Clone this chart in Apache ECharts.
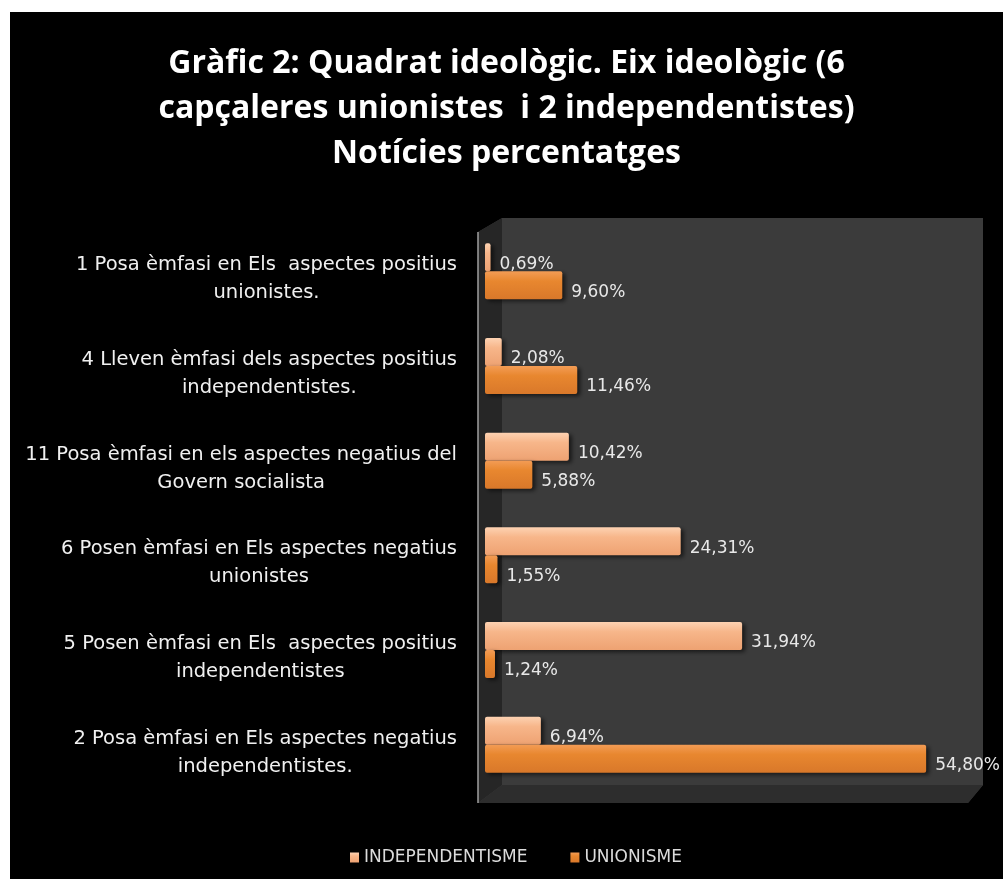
<!DOCTYPE html>
<html>
<head>
<meta charset="utf-8">
<script src="https://cdn.jsdelivr.net/npm/echarts@6/dist/echarts.min.js"></script>
<style>
html,body{margin:0;padding:0;background:#ffffff;}
#wrap{position:absolute;left:10px;top:12px;width:993px;height:867px;background:#000;}
#chart{width:993px;height:867px;}
</style>
</head>
<body>
<div id="wrap"><div id="chart"></div></div>
<script>
const categories = [
  "1 Posa èmfasi en Els  aspectes positius\nunionistes.",
  "4 Lleven èmfasi dels aspectes positius\nindependentistes.",
  "11 Posa èmfasi en els aspectes negatius del\nGovern socialista",
  "6 Posen èmfasi en Els aspectes negatius\nunionistes",
  "5 Posen èmfasi en Els  aspectes positius\nindependentistes",
  "2 Posa èmfasi en Els aspectes negatius\nindependentistes."
];
const seriesNames = ["INDEPENDENTISME", "UNIONISME"];
const independentisme = [0.69, 2.08, 10.42, 24.31, 31.94, 6.94];
const unionisme = [9.60, 11.46, 5.88, 1.55, 1.24, 54.80];
const titleText = "Gràfic 2: Quadrat ideològic. Eix ideològic (6\ncapçaleres unionistes  i 2 independentistes)\nNotícies percentatges";

const TFONT = "'Open Sans', sans-serif";
const FONT = "'DejaVu Sans', sans-serif";
const chart = echarts.init(document.getElementById('chart'));
const fmt = p => p.value.toFixed(2).replace('.', ',') + '%';
function grad(top, mid, bottom) {
  return new echarts.graphic.LinearGradient(0, 0, 0, 1, [
    {offset: 0, color: top}, {offset: 0.35, color: mid}, {offset: 1, color: bottom}
  ]);
}
chart.setOption({
  backgroundColor: '#000',
  textStyle: {fontFamily: FONT},
  title: {
    text: titleText,
    left: 'center',
    top: 24,
    textStyle: {color: '#fff', fontSize: 32, fontWeight: 'bold', lineHeight: 45, fontFamily: TFONT}
  },
  graphic: [
    {type: 'polygon', silent: true, z: -1,
     shape: {points: [[468, 220], [492, 206], [973, 206], [973, 773], [958, 791], [468, 791]]},
     style: {fill: '#3b3b3b'}},
    {type: 'polygon', silent: true, z: -1,
     shape: {points: [[468, 220], [492, 206], [492, 773], [468, 791]]},
     style: {fill: '#262626'}},
    {type: 'polygon', silent: true, z: -1,
     shape: {points: [[492, 773], [973, 773], [958, 791], [468, 791]]},
     style: {fill: '#2d2d2d'}},
    {type: 'line', silent: true, z: 5,
     shape: {x1: 468, y1: 220, x2: 468, y2: 791},
     style: {stroke: '#a0a0a0', lineWidth: 1.5}}
  ],
  legend: {
    bottom: 8,
    left: 335,
    itemWidth: 9, itemHeight: 10, itemGap: 43,
    icon: 'rect',
    textStyle: {color: '#dcdcdc', fontSize: 17, fontFamily: FONT},
    data: seriesNames
  },
  grid: {left: 475, right: 35, top: 212, bottom: 87, containLabel: false},
  xAxis: {type: 'value', min: 0, max: 60, show: false},
  yAxis: {
    type: 'category', data: categories, inverse: true,
    axisLine: {show: false}, axisTick: {show: false},
    axisLabel: {
      color: '#f0f0f0', fontSize: 19.5, margin: 28, align: 'right', lineHeight: 28,
      padding: [16, 0, 0, 0],
      formatter: v => v.split('\n').map(s => '{c|' + s + '}').join('\n'),
      rich: {c: {align: 'center', color: '#f0f0f0', fontSize: 19.5, lineHeight: 28, fontFamily: FONT}}
    }
  },
  series: [
    {
      name: seriesNames[0], type: 'bar', data: independentisme,
      barWidth: 28, barGap: '0%',
      itemStyle: {color: grad('#fdd2b2', '#f7b68a', '#eea272'), borderRadius: 2, shadowColor: 'rgba(0,0,0,0.6)', shadowBlur: 4, shadowOffsetX: 3, shadowOffsetY: 2},
      label: {show: true, position: 'right', distance: 9, offset: [0, 7], color: '#e8e8e8', fontSize: 17, formatter: fmt, fontFamily: FONT}
    },
    {
      name: seriesNames[1], type: 'bar', data: unionisme,
      barWidth: 28, barGap: '0%',
      itemStyle: {color: grad('#f39c55', '#e8872f', '#d9782a'), borderRadius: 2, shadowColor: 'rgba(0,0,0,0.6)', shadowBlur: 4, shadowOffsetX: 3, shadowOffsetY: 2},
      label: {show: true, position: 'right', distance: 9, offset: [0, 7], color: '#e8e8e8', fontSize: 17, formatter: fmt, fontFamily: FONT}
    }
  ]
});
</script>
</body>
</html>
